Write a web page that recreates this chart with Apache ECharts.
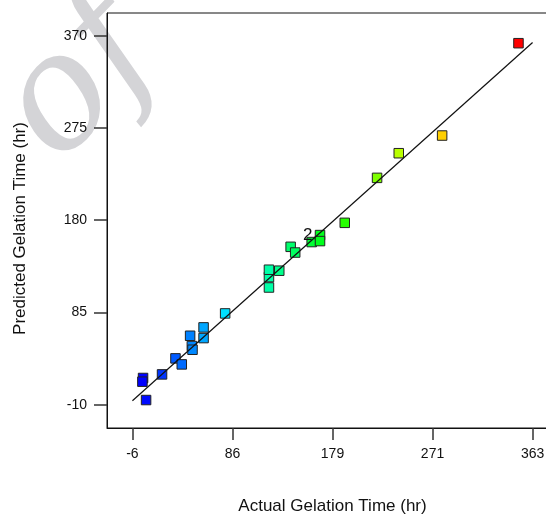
<!DOCTYPE html>
<html>
<head>
<meta charset="utf-8">
<script src="https://cdn.jsdelivr.net/npm/echarts@6/dist/echarts.min.js"></script>
<style>html,body{margin:0;padding:0;background:#fff}#c{width:546px;height:515px}</style>
</head>
<body>
<div id="c"></div>
<script>
// Actual vs predicted gelation time (hr)
var actual    = [6.6, 3.8, 3.2, 21.3, 33.7, 39.5, 47.2, 48.8, 49.4, 59.6, 59.6, 79.5, 119.9, 119.9, 119.9, 129.4, 139.9, 144.1, 159.3, 167.0, 167.0, 189.8, 219.6, 239.6, 279.6, 350.0];
var predicted = [-5.2, 17.5, 13.7, 21.2, 37.7, 31.5, 61.0, 50.4, 46.6, 69.6, 58.6, 84.0, 110.7, 121.4, 129.0, 128.0, 152.6, 146.7, 157.5, 164.7, 158.5, 177.3, 223.6, 249.0, 267.2, 362.3];
var replicates = [1, 1, 1, 1, 1, 1, 1, 1, 1, 1, 1, 1, 1, 1, 1, 1, 1, 1, 2, 1, 1, 1, 1, 1, 1, 1];
var xTicks = [-6, 86.25, 178.5, 270.75, 363];
var yTicks = [-10, 85, 180, 275, 370];
var refLine = [-6, 363];

var pts = actual.map(function (a, i) {
  var d = { value: [a, predicted[i]] };
  if (replicates[i] > 1) {
    d.label = { show: true, formatter: String(replicates[i]), position: 'inside', offset: [-4, -7],
      color: '#111', fontSize: 17, fontFamily: 'Liberation Sans' };
  }
  return d;
});

var chart = echarts.init(document.getElementById('c'), null, { renderer: 'canvas' });
var axisFont = { color: '#111', fontSize: 14, fontFamily: 'Liberation Sans, Arial, sans-serif' };
chart.setOption({
  animation: false,
  backgroundColor: '#fff',
  graphic: [{
    type: 'text', z: -1, x: 82, y: 82, rotation: 0.8,
    style: { text: 'of', fill: '#d4d4d7', font: 'italic 158px "DejaVu Serif", "Liberation Serif", serif',
      textAlign: 'center', textVerticalAlign: 'middle' }
  }],
  grid: { left: 107, top: 13, right: -12, bottom: 87, show: true, borderColor: '#111', borderWidth: 1,
    backgroundColor: 'transparent', outerBoundsMode: 'none' },
  visualMap: { show: false, type: 'continuous', seriesIndex: 0, dimension: 0,
    min: Math.min.apply(null, actual), max: Math.max.apply(null, actual),
    inRange: { color: ['#0000ff', '#00ffff', '#00ff00', '#ffff00', '#ff0000'] } },
  xAxis: {
    type: 'value', min: -29.45, max: 386.45,
    name: 'Actual Gelation Time (hr)', nameLocation: 'middle', nameGap: 70,
    nameTextStyle: { color: '#111', fontSize: 17, fontFamily: 'Liberation Sans, Arial, sans-serif' },
    axisLine: { show: true, onZero: false, lineStyle: { color: '#111', width: 1 } },
    axisTick: { show: true, inside: false, length: 12, customValues: xTicks, lineStyle: { color: '#333', width: 1.5 } },
    axisLabel: Object.assign({ margin: 19, customValues: xTicks, formatter: function (v) { return String(Math.round(v)); } }, axisFont),
    splitLine: { show: false }
  },
  yAxis: {
    type: 'value', min: -34, max: 393.4,
    name: 'Predicted Gelation Time (hr)', nameLocation: 'middle', nameGap: 78,
    nameTextStyle: { color: '#111', fontSize: 17, fontFamily: 'Liberation Sans, Arial, sans-serif', padding: [0, 16, 0, 0] },
    axisLine: { show: true, onZero: false, lineStyle: { color: '#111', width: 1 } },
    axisTick: { show: true, inside: false, length: 13, customValues: yTicks, lineStyle: { color: '#333', width: 1.5 } },
    axisLabel: Object.assign({ margin: 20, customValues: yTicks, formatter: function (v) { return String(Math.round(v)); } }, axisFont),
    splitLine: { show: false }
  },
  series: [
    {
      type: 'scatter', symbol: 'rect', symbolSize: 9.5, z: 3,
      itemStyle: { borderColor: '#222', borderWidth: 1, opacity: 1 },
      data: pts
    },
    {
      type: 'line', z: 4, symbol: 'none', silent: true,
      lineStyle: { color: '#111', width: 1.2 },
      data: refLine.map(function (v) { return [v, v]; })
    }
  ]
});
</script>
</body>
</html>
